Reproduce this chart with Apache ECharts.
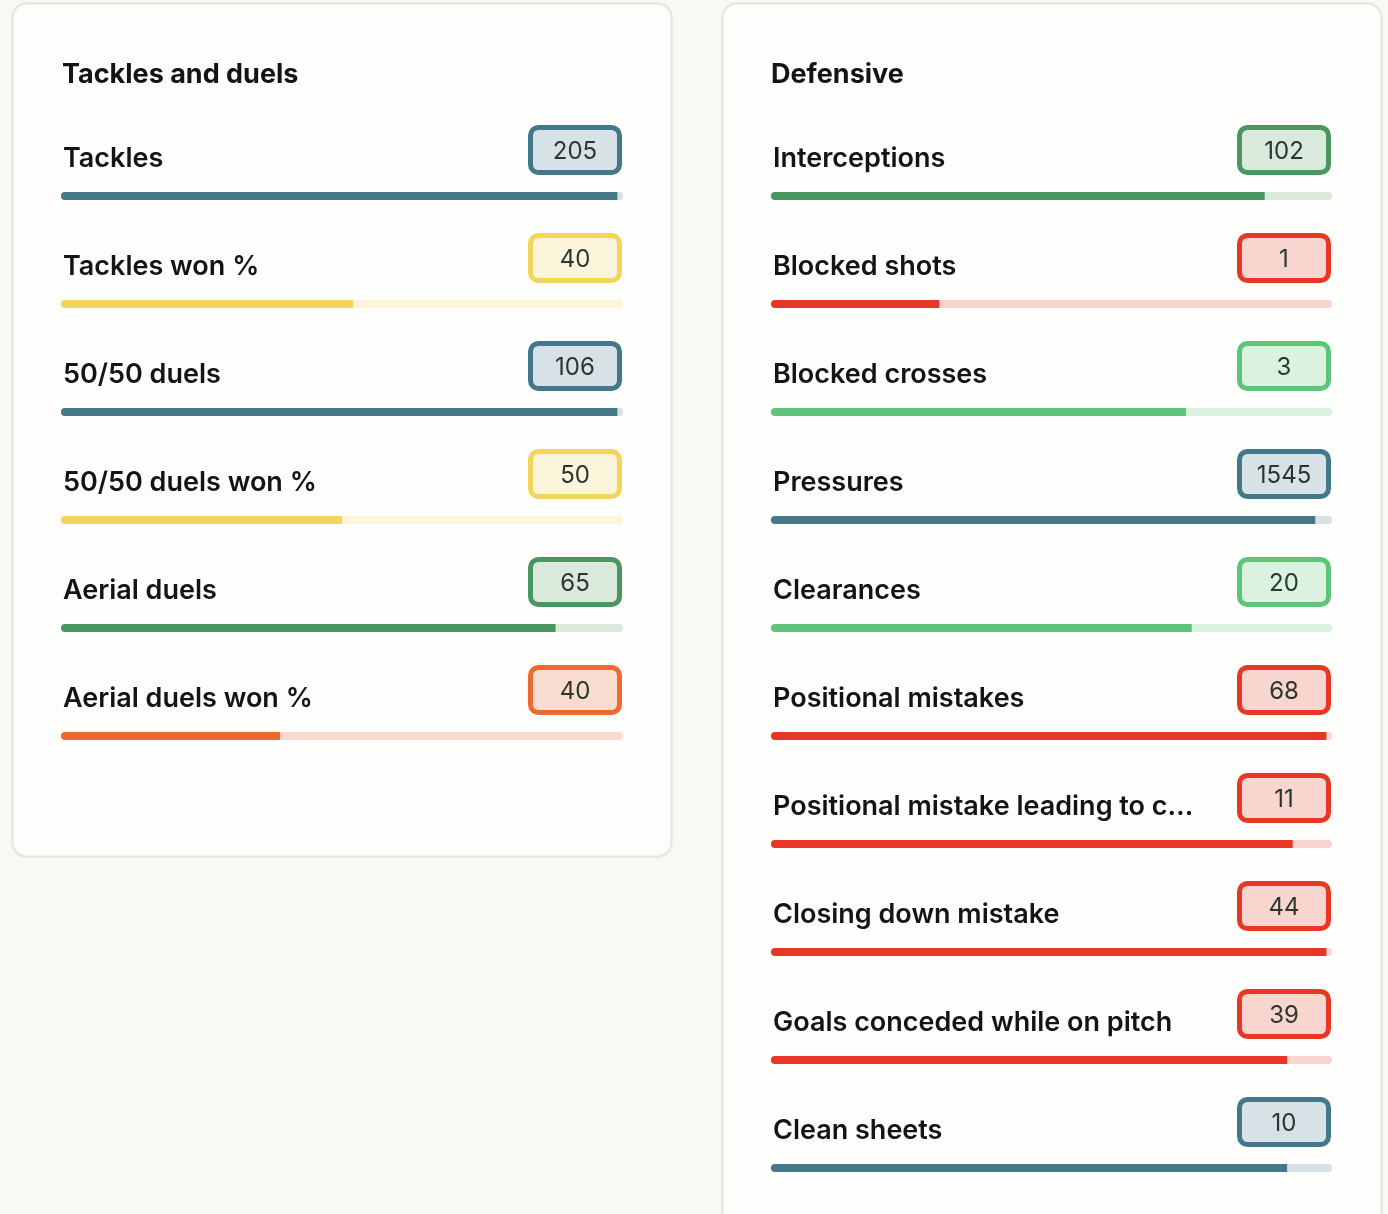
<!DOCTYPE html>
<html><head><meta charset="utf-8">
<script src="https://cdn.jsdelivr.net/npm/echarts@6/dist/echarts.min.js"></script>
<style>html,body{margin:0;padding:0;background:#f8f8f4;}#c{width:1388px;height:1214px;}</style>
</head><body><div id="c"></div>
<script>
// ---- data ----
const leftTitle = 'Tackles and duels';
const leftLabels = ['Tackles','Tackles won %','50/50 duels','50/50 duels won %','Aerial duels','Aerial duels won %'];
const leftValues = ['205','40','106','50','65','40'];
const leftPct = [99, 52, 99, 50, 88, 39];
const leftColorKey = ['blue','yellow','blue','yellow','dkgreen','orange'];

const rightTitle = 'Defensive';
const rightLabels = ['Interceptions','Blocked shots','Blocked crosses','Pressures','Clearances','Positional mistakes','Positional mistake leading to c…','Closing down mistake','Goals conceded while on pitch','Clean sheets'];
const rightValues = ['102','1','3','1545','20','68','11','44','39','10'];
const rightPct = [88, 30, 74, 97, 75, 99, 93, 99, 92, 92];
const rightColorKey = ['dkgreen','red','green','blue','green','red','red','red','red','blue'];

// ---- styles ----
const palette = {
  blue:    {fill:'#44778a', light:'#d6e2e5'},
  yellow:  {fill:'#f3d55b', light:'#fcf5dc'},
  dkgreen: {fill:'#4a9560', light:'#d9e9dc'},
  green:   {fill:'#5ec477', light:'#dcf2e0'},
  orange:  {fill:'#ec6a2f', light:'#f9dccf'},
  red:     {fill:'#e83727', light:'#f9d5d0'}
};
const FONT = 'Inter';
const ROW = 108;
const chart = echarts.init(document.getElementById('c'), null, {renderer:'canvas'});

function panel(gridIdx, labels, values, pct, keys) {
  return {
    type:'custom', xAxisIndex:gridIdx, yAxisIndex:gridIdx, clip:false, silent:true,
    encode:{x:0, y:1},
    data: pct.map((v, i) => [v, i]),
    renderItem: function(params, api) {
      const i = api.value(1);
      const v = api.value(0);
      const p0 = api.coord([0, i]);
      const p1 = api.coord([100, i]);
      const pv = api.coord([v, i]);
      const yc = p0[1];           // band centre
      const by = yc + 22;         // bar top
      const c = palette[keys[i]];
      return {type:'group', children:[
        {type:'rect', shape:{x:p0[0], y:by, width:p1[0]-p0[0], height:8, r:4}, style:{fill:c.light}},
        {type:'rect', shape:{x:p0[0], y:by, width:pv[0]-p0[0], height:8, r:[4,0,0,4]}, style:{fill:c.fill}},
        {type:'text', x:p0[0]+2, y:yc-11.5, style:{text:labels[i], fill:'#141414', font:'600 27px ' + FONT, textAlign:'left', textVerticalAlign:'middle'}},
        {type:'rect', shape:{x:p1[0]-92.5, y:yc-42.5, width:89, height:45, r:8},
          style:{fill:c.light, stroke:c.fill, lineWidth:5}},
        {type:'text', x:p1[0]-48, y:yc-18.5, style:{text:values[i], fill:'#2b372d', font:'400 24px ' + FONT, textAlign:'center', textVerticalAlign:'middle'}}
      ]};
    }
  };
}

chart.setOption({
  backgroundColor:'#f8f8f4',
  animation:false,
  graphic:[
    {type:'rect', shape:{x:12.5, y:3.5, width:659, height:853, r:14}, style:{fill:'#fdfdfb', stroke:'#e3e3de', lineWidth:1.5, shadowBlur:3, shadowColor:'rgba(0,0,0,0.06)'}, z:-10},
    {type:'rect', shape:{x:722.5, y:3.5, width:659, height:1240, r:14}, style:{fill:'#fdfdfb', stroke:'#e3e3de', lineWidth:1.5, shadowBlur:3, shadowColor:'rgba(0,0,0,0.06)'}, z:-10}
  ],
  title:[
    {text:leftTitle, left:62, top:61, padding:0, textStyle:{fontFamily:FONT, fontWeight:700, fontSize:27, color:'#141414'}},
    {text:rightTitle, left:771, top:61, padding:0, textStyle:{fontFamily:FONT, fontWeight:700, fontSize:27, color:'#141414'}}
  ],
  grid:[
    {left:61, width:562, top:116, height:ROW*leftLabels.length},
    {left:771, width:561, top:116, height:ROW*rightLabels.length}
  ],
  xAxis:[
    {gridIndex:0, type:'value', min:0, max:100, show:false},
    {gridIndex:1, type:'value', min:0, max:100, show:false}
  ],
  yAxis:[
    {gridIndex:0, type:'category', data:leftLabels.map((_, i) => i), inverse:true, show:false},
    {gridIndex:1, type:'category', data:rightLabels.map((_, i) => i), inverse:true, show:false}
  ],
  series:[
    panel(0, leftLabels, leftValues, leftPct, leftColorKey),
    panel(1, rightLabels, rightValues, rightPct, rightColorKey)
  ]
});
</script></body></html>
